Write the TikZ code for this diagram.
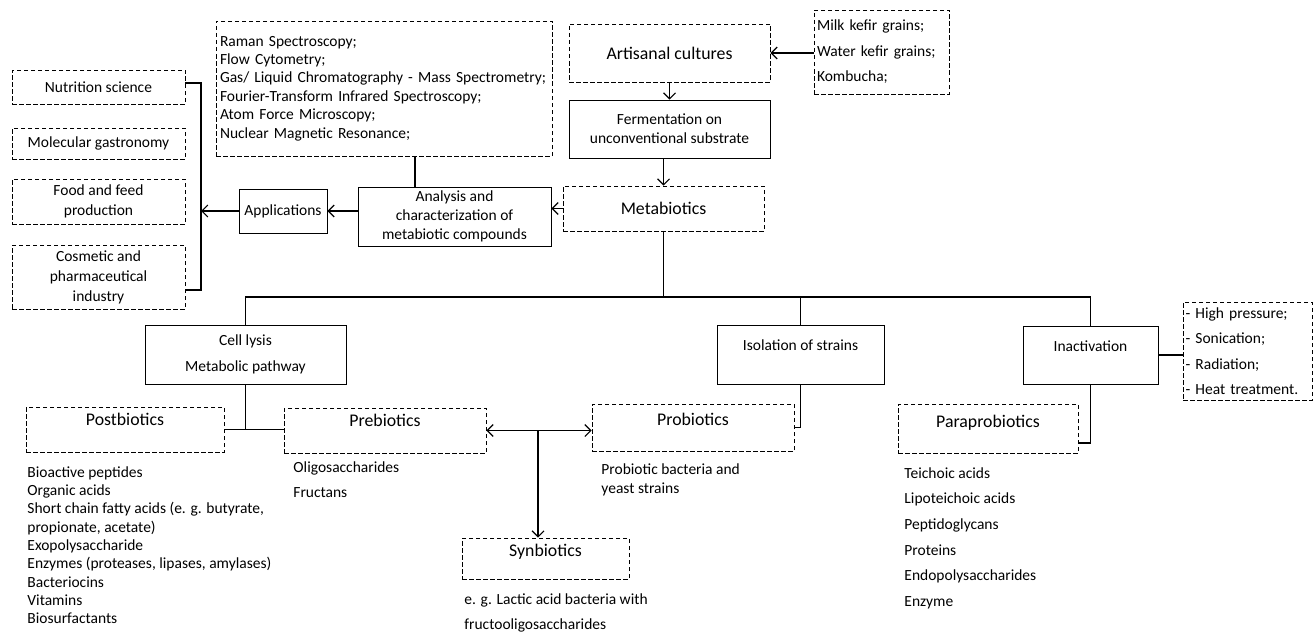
\documentclass[tikz,border=0pt]{standalone}
\usepackage{fontspec}
\setmainfont{Carlito}
\usetikzlibrary{positioning,arrows.meta}

\begin{document}
\begin{tikzpicture}[x=1pt,y=-1pt,line width=0.9pt,
    every node/.style={font=\fontsize{15.5}{20}\selectfont},
    sbox/.style={draw, align=center, inner sep=2pt},
    dbox/.style={sbox, dash pattern=on 4.5pt off 2.5pt},
    big/.style={font=\fontsize{17.8}{22}\selectfont},
    txtup/.style={text height=12pt, text depth=#1},
    txtup/.default=20pt,
    lst/.style={align=left, inner sep=0pt, anchor=north west},
    wide/.style={font=\fontsize{15.5}{25.5}\selectfont},
    arr/.style={line width=1.1pt, -{Straight Barb[length=6pt,width=12pt]}},
    arrs/.style={line width=1.1pt, {Straight Barb[length=6pt,width=12pt]}-{Straight Barb[length=6pt,width=12pt]}},
    thk/.style={line width=1.6pt}]
\useasboundingbox (0,0) rectangle (1314,634);

\node[dbox, minimum width=173, minimum height=34] (nutri) at (98.5,87) {Nutrition science};
\node[dbox, minimum width=173, minimum height=31] (molgas) at (98.5,143.5) {Molecular gastronomy};
\node[dbox, minimum width=173, minimum height=45] (food) at (98.5,201.5) {Food and feed\\production};
\node[dbox, minimum width=173, minimum height=64] (cosm) at (98.5,277) {Cosmetic and\\pharmaceutical\\industry};

\node[sbox, minimum width=88, minimum height=44] (appl) at (283,211) {Applications};
\node[sbox, minimum width=193, minimum height=59, font=\fontsize{15.5}{19}\selectfont] (anal) at (454.5,216.5) {Analysis and\\characterization of\\metabiotic compounds};
\node[dbox, minimum width=336, minimum height=135, align=left, text width=328, font=\fontsize{15.5}{18.4}\selectfont] (meth) at (384,88.5) {Raman Spectroscopy;\\Flow Cytometry;\\Gas/ Liquid Chromatography - Mass Spectrometry;\\Fourier-Transform Infrared Spectroscopy;\\Atom Force Microscopy;\\Nuclear Magnetic Resonance;};

\node[dbox, big, minimum width=201, minimum height=58] (artis) at (669.5,53) {Artisanal cultures};
\node[sbox, minimum width=201, minimum height=58, font=\fontsize{15.5}{19}\selectfont] (ferm) at (669.5,129) {Fermentation on\\unconventional substrate};
\node[dbox, big, minimum width=201, minimum height=45] (metab) at (663.5,208.5) {Metabiotics};
\node[dbox, wide, minimum width=135, minimum height=84, align=left, text width=129] (src) at (881.5,52) {Milk kefir grains;\\Water kefir grains;\\Kombucha;};

\node[sbox, wide, minimum width=201, minimum height=59] (lysis) at (245.5,354.5) {Cell lysis\\Metabolic pathway};
\node[sbox, txtup, minimum width=167, minimum height=59] (isol) at (800.5,354.5) {Isolation of strains};
\node[sbox, txtup, minimum width=135, minimum height=58] (inact) at (1090.5,355) {Inactivation};
\node[dbox, wide, minimum width=129, minimum height=98, align=left, text width=124] (treat) at (1247.5,351) {- High pressure;\\- Sonication;\\- Radiation;\\- Heat treatment.};

\node[dbox, big, txtup, minimum width=198, minimum height=45] (postb) at (125,429.5) {Postbiotics};
\node[dbox, big, txtup, minimum width=202, minimum height=45] (preb) at (385,430.5) {Prebiotics};
\node[dbox, big, txtup=16pt, minimum width=202, minimum height=47] (prob) at (693,427.5) {Probiotics};
\node[dbox, big, txtup=17pt, minimum width=167, minimum height=41] (synb) at (545.5,558.5) {Synbiotics};
\node[dbox, big, txtup=15pt, minimum width=180, minimum height=49] (parab) at (988,428.5) {Paraprobiotics};

\node[lst, font=\fontsize{15.5}{18.3}\selectfont] (postl) at (27,466) {Bioactive peptides\\Organic acids\\Short chain fatty acids (e. g. butyrate,\\propionate, acetate)\\Exopolysaccharide\\Enzymes (proteases, lipases, amylases)\\Bacteriocins\\Vitamins\\Biosurfactants};
\node[lst, font=\fontsize{15.5}{25}\selectfont] (prel) at (293,461) {Oligosaccharides\\Fructans};
\node[lst, font=\fontsize{15.5}{19}\selectfont] (probl) at (601,463) {Probiotic bacteria and\\yeast strains};
\node[lst, font=\fontsize{15.5}{25}\selectfont] (synl) at (464,593) {e. g. Lactic acid bacteria with\\fructooligosaccharides};
\node[lst, font=\fontsize{15.5}{25.6}\selectfont] (paral) at (904,467) {Teichoic acids\\Lipoteichoic acids\\Peptidoglycans\\Proteins\\Endopolysaccharides\\Enzyme};

\coordinate (btop) at (201,83);
\coordinate (bbot) at (201,290);
\coordinate (bar) at (664,297);

\draw[arr] (artis.east -| src.west) -- (artis.east);
\draw[arr] (artis) -- (ferm);
\draw[arr] (metab.north |- ferm.south) -- (metab.north);
\draw[arr] (metab.west) -- (metab.west -| anal.east);
\draw[line width=1.1pt] ([xshift=31pt]meth.south) -- ([xshift=31pt]meth.south |- anal.north);
\draw[arr] (anal.west |- appl.east) -- (appl.east);
\draw[arr] (appl.west) -- (appl.west -| btop);
\draw[line width=1.1pt] (btop -| nutri.east) -- (btop) -- (bbot) -- (bbot -| cosm.east);

\draw[thk] (metab.south) -- (metab.south |- bar);
\draw[thk] (lysis.north) |- (inact.north |- bar) -- (inact.north);
\draw[thk] (isol.north) -- (isol.north |- bar);
\draw[line width=1.1pt] (inact.east) -- (inact.east -| treat.west);

\draw[thk] (lysis.south) -- (lysis.south |- postb.east);
\draw[line width=1.1pt] (postb.east) -- (postb.east -| preb.west);
\draw[arrs] (preb.east) -- (preb.east -| prob.west);
\draw[arr] ([xshift=-7.5pt]synb.north |- preb.east) -- ([xshift=-7.5pt]synb.north);
\draw[thk] (isol.south) |- (prob.east);
\draw[thk] (inact.south) |- ([yshift=-14.5pt]parab.east);
\end{tikzpicture}
\end{document}
